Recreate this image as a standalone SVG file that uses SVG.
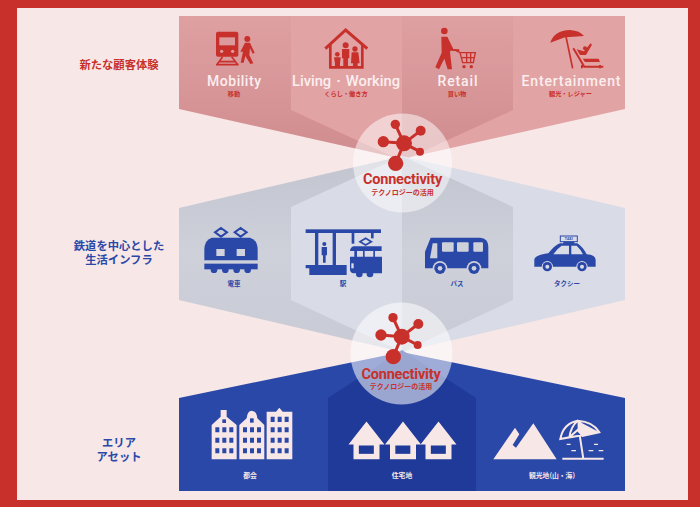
<svg xmlns="http://www.w3.org/2000/svg" width="700" height="507" viewBox="0 0 700 507">
<style>
text{text-anchor:middle;font-family:"Noto Sans CJK JP","Noto Sans",sans-serif;font-weight:700}
.en{font-family:"Roboto","Liberation Sans",sans-serif}
.h{font-size:14px;fill:#fbeeee;font-weight:500}
.rs{font-size:6.2px;fill:#c8302b}
.bs{font-size:6.5px;fill:#2a48a8}
.ws{font-size:6.8px;fill:#f7e7e7}
.lab{font-size:11.300px}
.con{font-size:14.500px;fill:#c8302b;letter-spacing:-.2px}
.cs{font-size:7px;fill:#c8302b}
.r{fill:#c8302b}.b{fill:#2a48a8}.w{fill:#f7e7e7}
.rl{stroke:#c8302b;fill:none}.bl{stroke:#2a48a8;fill:none}.wl{stroke:#f7e7e7;fill:none}
</style>
<defs>
<linearGradient id="gr" x1="0" y1="0" x2="0" y2="1"><stop offset="0" stop-color="#dfa0a2"/><stop offset="1" stop-color="#d08c8f"/></linearGradient>
<linearGradient id="gg" x1="0" y1="0" x2="0" y2="1"><stop offset="0" stop-color="#c2c4cf"/><stop offset=".5" stop-color="#ced0da"/><stop offset="1" stop-color="#c8cad5"/></linearGradient>
<g id="hub"><path class="rl" stroke-width="9" d="M222 130L196 73M222 130L272 92M222 130L160 125M222 130L270 155M222 130L197 190"/><circle class="r" cx="222" cy="130" r="24"/><circle class="r" cx="196" cy="73" r="14"/><circle class="r" cx="272" cy="92" r="15"/><circle class="r" cx="160" cy="125" r="17"/><circle class="r" cx="270" cy="155" r="12"/><circle class="r" cx="197" cy="190" r="23"/></g>
<g id="hs"><path class="w" d="M0 0L54 69H39V113H-39V69H-54Z"/><rect x="-23" y="72" width="45" height="25" fill="#1f3a98"/></g>
</defs>
<rect width="700" height="507" fill="#c8302b"/>
<rect x="17" y="8" width="671" height="492" fill="#f7e7e7"/>

<g id="band-experience">
<path fill="url(#gr)" d="M179 16H402V159L179 109Z"/>
<path fill="#e2a3a5" d="M402 16H625V109L402 159Z"/>
<path fill="#e2a3a5" d="M291 16H402V161L291 110Z"/>
<path fill="url(#gr)" d="M402 16H513V110L402 161Z"/>
</g>
<g id="band-infra">
<path fill="url(#gg)" d="M179 208L402 156V352L179 300Z"/>
<path fill="#d9dbe6" d="M625 208L402 156V352L625 300Z"/>
<path fill="#d9dbe6" d="M291 207L402 156V352L291 300Z"/>
<path fill="url(#gg)" d="M513 207L402 156V352L513 300Z"/>
</g>
<g id="band-area">
<path fill="#2a48a8" d="M179 398L402 352L625 398V491H179Z"/>
<path fill="#1f3a98" d="M328 398L402 350L476 398V491H328Z"/>
</g>
<g id="connectors">
<circle cx="402.500" cy="163" r="49.500" fill="#fff" fill-opacity=".5"/>
<circle cx="401.500" cy="353.500" r="51" fill="#fff" fill-opacity=".55"/>
</g>

<g id="label-experience"><text class="lab" x="119" y="69" fill="#c8302b">新たな顧客体験</text></g>
<g id="label-infra"><text class="lab" x="119" y="250" fill="#2a48a8">鉄道を中心とした</text><text class="lab" x="119" y="264" fill="#2a48a8">生活インフラ</text></g>
<g id="label-area"><text class="lab" x="119" y="447" fill="#2a48a8">エリア</text><text class="lab" x="119" y="461" fill="#2a48a8">アセット</text></g>

<g id="mobility">
<g transform="translate(170,10) scale(.3333)">
<rect class="r" x="138" y="65" width="67" height="75" rx="6"/><rect x="148" y="82" width="47" height="24" fill="#dc9a9c"/>
<circle cx="155" cy="124" r="5" fill="#dc9a9c"/><circle cx="188" cy="124" r="5" fill="#dc9a9c"/>
<path class="rl" stroke-width="5" d="M158 140L140 165M185 140L204 165M146 155H197M138 164H206"/>
<circle class="r" cx="232" cy="87" r="9"/><path class="r" d="M225 98H240L254 128L248 131L240 115L238 135L250 160L241 162L226 138L221 158L212 158L219 125L211 125Z"/>
</g>
<text class="en h" x="234" y="85.500" textLength="54" lengthAdjust="spacing">Mobility</text><text class="rs" x="234" y="96">移動</text>
</g>
<g id="living-working">
<g transform="translate(170,10) scale(.3333)">
<path class="rl" stroke-width="9" d="M466 116L527 60L592 116"/><path class="rl" stroke-width="8" d="M481 104V172H577V104"/>
<circle class="r" cx="527" cy="106" r="9"/><path class="r" d="M516 117H538V145H534V172H520V145H516Z"/>
<circle class="r" cx="502" cy="133" r="7"/><path class="r" d="M492 142H512L510 160V172H495V160Z"/>
<circle class="r" cx="555" cy="117" r="8"/><path class="r" d="M545 127H565L569 160H563V172H549V160H543Z"/>
</g>
<text class="en h" x="346" y="85.500" textLength="108" lengthAdjust="spacingAndGlyphs">Living・Working</text><text class="rs" x="346" y="96">くらし・働き方</text>
</g>
<g id="retail">
<g transform="translate(400,10) scale(.3333)">
<circle class="r" cx="133" cy="63" r="10"/><path class="r" d="M124 80L142 80L160 117L178 118V124L152 122L150 126L156 178H143L133 146L117 178L106 172L125 128Z"/>
<path class="rl" stroke-width="4" d="M168 122L180 128H226L220 158H188L180 128M184 143H222M200 128V158M212 128V158"/>
<circle class="r" cx="192" cy="170" r="5"/><circle class="r" cx="214" cy="170" r="5"/>
</g>
<text class="en h" x="457.500" y="85.500" textLength="40" lengthAdjust="spacing">Retail</text><text class="rs" x="457" y="96">買い物</text>
</g>
<g id="entertainment">
<g transform="translate(400,10) scale(.3333)">
<path class="r" d="M451 98Q462 62 510 60Q540 62 552 78L520 80L495 82Z"/><path class="rl" stroke-width="5" d="M497 75L518 175"/>
<path class="rl" stroke-width="6" d="M520 115L553 170H610M546 165V175M600 165V175"/>
<circle class="r" cx="555" cy="115" r="6"/><path class="r" d="M530 118L552 124L572 100L576 104L558 135L540 135ZM548 146H596L600 156H555Z"/>
</g>
<text class="en h" x="571" y="85.500" textLength="99" lengthAdjust="spacing">Entertainment</text><text class="rs" x="570.500" y="96">観光・レジャー</text>
</g>

<g id="connectivity-top">
<use href="#hub" transform="translate(330,100) scale(.3333)"/>
<text class="en con" x="402.500" y="183.500">Connectivity</text><text class="cs" x="402.500" y="194.500">テクノロジーの活用</text>
</g>

<g id="train">
<g transform="translate(170,200) scale(.3333)">
<path class="bl" stroke-width="6" d="M153 84L171 97L153 110L135 97ZM212 84L230 97L212 110L194 97Z"/>
<path class="b" d="M125 113H240Q263 120 263 150V181H103V150Q103 120 125 113Z"/>
<rect x="139" y="147" width="25" height="21" fill="#d0d2dc"/><rect x="200" y="147" width="25" height="21" fill="#d0d2dc"/>
<rect class="b" x="103" y="191" width="160" height="17"/>
<circle class="b" cx="132" cy="209" r="10"/><circle class="b" cx="166" cy="209" r="10"/><circle class="b" cx="200" cy="209" r="10"/><circle class="b" cx="233" cy="209" r="10"/>
</g>
<text class="bs" x="234" y="286">電車</text>
</g>
<g id="station">
<g transform="translate(170,200) scale(.3333)">
<rect class="b" x="407" y="88" width="226" height="11"/><rect class="b" x="435" y="99" width="10" height="97"/><rect class="b" x="488" y="99" width="10" height="97"/>
<rect class="b" x="545" y="99" width="8" height="32"/><rect class="b" x="603" y="99" width="8" height="16"/>
<circle class="b" cx="463" cy="132" r="6"/><path class="b" d="M455 141H471V166H467V188H459V166H455Z"/>
<path class="b" d="M407 195H530V225H418V205H407Z"/>
<path class="bl" stroke-width="5" d="M587 115L604 125L587 135L570 125Z"/>
<path class="b" d="M550 139H635V153H540Q541 142 550 139Z"/><rect class="b" x="553" y="153" width="8" height="18"/><rect class="b" x="579" y="153" width="5" height="18"/><rect class="b" x="610" y="153" width="5" height="18"/>
<path class="b" d="M540 170H636V220H552Q540 220 540 208Z"/><rect x="544" y="190" width="7" height="15" fill="#d9dbe6"/>
<circle class="b" cx="568" cy="222" r="10"/><circle class="b" cx="600" cy="222" r="10"/>
</g>
<text class="bs" x="343" y="286">駅</text>
</g>
<g id="bus">
<g transform="translate(400,200) scale(.3333)">
<path class="b" d="M92 113H240Q265 115 265 140V205H75V155Z"/>
<rect x="126" y="127" width="35" height="28" rx="3" fill="#ced0da"/><rect x="171" y="127" width="35" height="28" rx="3" fill="#ced0da"/><rect x="220" y="127" width="29" height="28" rx="3" fill="#ced0da"/>
<path d="M98 130H112V175H90Z" fill="#ced0da"/>
<circle cx="120" cy="205" r="22" fill="#ced0da"/><circle class="b" cx="120" cy="205" r="17"/><circle cx="120" cy="205" r="7" fill="#ced0da"/>
<circle cx="222" cy="205" r="22" fill="#ced0da"/><circle class="b" cx="222" cy="205" r="17"/><circle cx="222" cy="205" r="7" fill="#ced0da"/>
</g>
<text class="bs" x="457" y="286">バス</text>
</g>
<g id="taxi">
<g transform="translate(400,200) scale(.3333)">
<rect class="bl" stroke-width="3" x="481" y="108" width="51" height="17"/><text x="506.500" y="121" font-size="11" class="en" fill="#2a48a8">TAXI</text>
<rect class="b" x="490" y="125" width="33" height="7"/>
<path class="b" d="M480 130H532Q548 140 560 163Q587 165 587 180V200H403V178Q405 165 445 160Q465 135 480 130Z"/>
<path d="M485 137H507V163H460Q472 145 485 137ZM514 137H530Q542 148 549 163H514Z" fill="#d9dbe6"/>
<circle cx="442" cy="200" r="17" fill="#d9dbe6"/><circle class="b" cx="442" cy="200" r="14"/><circle cx="442" cy="200" r="6" fill="#d9dbe6"/>
<circle cx="546" cy="200" r="17" fill="#d9dbe6"/><circle class="b" cx="546" cy="200" r="14"/><circle cx="546" cy="200" r="6" fill="#d9dbe6"/>
</g>
<text class="bs" x="567" y="286">タクシー</text>
</g>

<g id="connectivity-bottom">
<use href="#hub" transform="translate(330,295) scale(.3333) translate(-7,-5)"/>
<text class="en con" x="401" y="378.500">Connectivity</text><text class="cs" x="401" y="388.500">テクノロジーの活用</text>
</g>

<g id="city">
<g transform="translate(170,380) scale(.3333)">
<path class="w" d="M125 238V135L152 110V90H170V110L200 135V238Z"/>
<path class="w" d="M208 238V135L230 115Q232 92 245 92Q260 92 262 115L283 135V238Z"/>
<path class="w" d="M290 238V95H318L328 83L338 95H367V238Z"/>
<g fill="#2a48a8">
<rect x="157" y="118" width="11" height="11"/><rect x="240" y="115" width="11" height="13"/>
<path id="win" d="M136 142h12v15h-12zM157 142h12v15h-12zM178 142h12v15h-12zM136 173h12v15h-12zM157 173h12v15h-12zM178 173h12v15h-12zM136 205h12v15h-12zM157 205h12v15h-12zM178 205h12v15h-12z"/>
<use href="#win" x="83"/>
<path d="M302 110h12v16h-12zM323 110h12v16h-12zM344 110h12v16h-12zM302 142h12v15h-12zM323 142h12v15h-12zM344 142h12v15h-12zM302 173h12v15h-12zM323 173h12v15h-12zM344 173h12v15h-12zM302 205h12v15h-12zM323 205h12v15h-12zM344 205h12v15h-12z"/>
</g>
</g>
<text class="ws" x="250" y="478">都会</text>
</g>
<g id="residential">
<use href="#hs" transform="translate(366.500,421.500) scale(.3333)"/>
<use href="#hs" transform="translate(403,421.500) scale(.3333)"/>
<use href="#hs" transform="translate(438.500,421.500) scale(.3333)"/>
<text class="ws" x="402" y="478">住宅地</text>
</g>
<g id="resort">
<g transform="translate(400,380) scale(.3333)">
<path class="w" d="M400 130L470 238H280L345 143L358 163L338 195L348 203Z"/>
<path class="wl" stroke-width="6" d="M481 177Q490 130 533 122Q580 125 598 157ZM481 177L508 172L533 150L548 168L598 157M508 172Q512 140 533 122Q552 140 548 168"/>
<path class="w" d="M533 122L598 157L548 168L533 150Z"/>
<path class="wl" stroke-width="6" d="M539 165L550 236M487 236H611"/>
<path class="wl" stroke-width="4" d="M500 193H512M582 193H594M514 212H528M566 212H580M596 212H610"/>
</g>
<text class="ws" x="552" y="478">観光地(山・海)</text>
</g>
</svg>
